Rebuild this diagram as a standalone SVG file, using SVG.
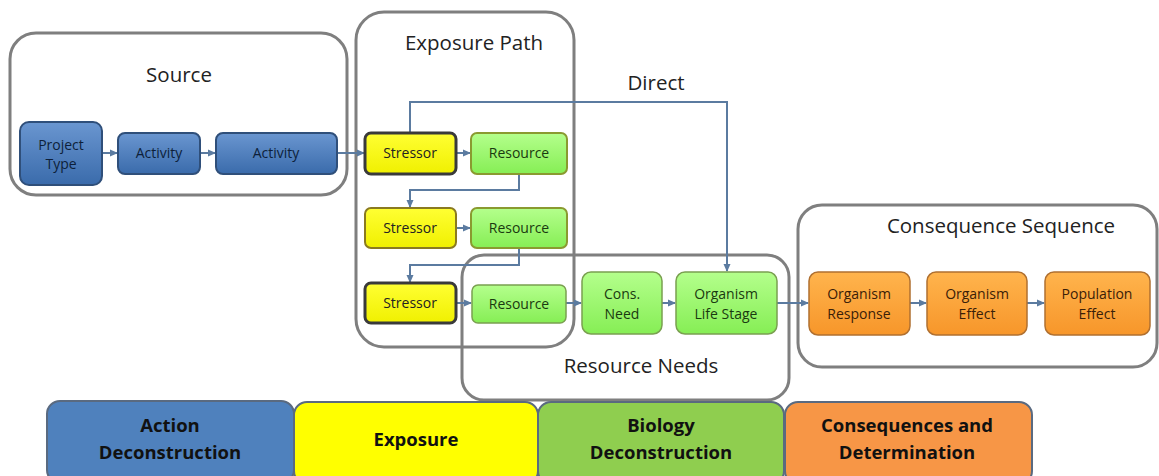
<svg xmlns="http://www.w3.org/2000/svg" width="1159" height="476" viewBox="0 0 1159 476">
<defs>
<linearGradient id="gb" x1="0" y1="0" x2="0" y2="1"><stop offset="0" stop-color="#6a96d0"/><stop offset="1" stop-color="#3a6bab"/></linearGradient>
<linearGradient id="gy" x1="0" y1="0" x2="0" y2="1"><stop offset="0" stop-color="#ffff33"/><stop offset="1" stop-color="#f0f000"/></linearGradient>
<linearGradient id="gg" x1="0" y1="0" x2="0" y2="1"><stop offset="0" stop-color="#b4ff8c"/><stop offset="1" stop-color="#86ee55"/></linearGradient>
<linearGradient id="go" x1="0" y1="0" x2="0" y2="1"><stop offset="0" stop-color="#ffb44d"/><stop offset="1" stop-color="#f7962a"/></linearGradient>
<marker id="ah" markerWidth="8" markerHeight="8" refX="7" refY="4" orient="auto" markerUnits="userSpaceOnUse"><path d="M0,0.5 L8,4 L0,7.5 Z" fill="#5b7ba0"/></marker>
</defs>
<style>
.cont{fill:none;stroke:#7f7f7f;stroke-width:3}
.ctitle{font-family:"Open Sans","Liberation Sans",sans-serif;font-size:20.5px;fill:#222;text-anchor:middle}
.nt{font-family:"Open Sans","Liberation Sans",sans-serif;font-size:14px;text-anchor:middle}
.blue{fill:url(#gb);stroke:#2f4f7a;stroke-width:2}
.yel{fill:url(#gy);stroke:#8a7a20;stroke-width:2}
.yel2{fill:url(#gy);stroke:#3a3a3a;stroke-width:3}
.grn{fill:url(#gg);stroke:#8a9a30;stroke-width:2}
.grn2{fill:url(#gg);stroke:#7aa050;stroke-width:1.5}
.org{fill:url(#go);stroke:#b07030;stroke-width:1.5}
.conn path{fill:none;stroke:#5b7ba0;stroke-width:2;marker-end:url(#ah)}
.bar{stroke:#5a6a80;stroke-width:2}
.bt{font-family:"Open Sans","Liberation Sans",sans-serif;font-size:18.5px;font-weight:bold;fill:#111;text-anchor:middle}
</style>
<rect width="1159" height="476" fill="#ffffff"/>

<g id="source-container">
<rect class="cont" x="10" y="33" width="337" height="162" rx="26"/>
<text class="ctitle" x="179" y="82">Source</text>
</g>
<g id="exposure-container">
<rect class="cont" x="356" y="12" width="218" height="335" rx="28"/>
<text class="ctitle" x="474" y="50">Exposure Path</text>
</g>
<g id="resource-needs-container">
<rect class="cont" x="462" y="255" width="327" height="145" rx="22"/>
<text class="ctitle" x="641" y="373">Resource Needs</text>
</g>
<g id="consequence-container">
<rect class="cont" x="798" y="205" width="359" height="162" rx="24"/>
<text class="ctitle" x="1001" y="233">Consequence Sequence</text>
</g>

<g class="conn" id="connectors">
<path d="M102,153 L117,153"/>
<path d="M200,153 L215,153"/>
<path d="M337,153 L364,153"/>
<path d="M456,153 L470,153"/>
<path d="M519,174 L519,190 L410,190 L410,207"/>
<path d="M456,228 L470,228"/>
<path d="M519,248 L519,265 L410,265 L410,282"/>
<path d="M456,303 L471,303"/>
<path d="M566,303 L581,303"/>
<path d="M662,303 L675,303"/>
<path d="M410,133 L410,102 L727,102 L727,271"/>
<path d="M777,303 L808,303"/>
<path d="M910,303 L926,303"/>
<path d="M1027,303 L1044,303"/>
</g>
<text class="ctitle" x="656" y="90">Direct</text>

<g id="project-type"><rect class="blue" x="20" y="122" width="82" height="63" rx="9"/><text class="nt" x="61" y="150" fill="#0d1f3a">Project</text><text class="nt" x="61" y="169" fill="#0d1f3a">Type</text></g>
<g id="activity-1"><rect class="blue" x="118" y="133" width="82" height="41" rx="7"/><text class="nt" x="159" y="158" fill="#0d1f3a">Activity</text></g>
<g id="activity-2"><rect class="blue" x="216" y="133" width="121" height="41" rx="7"/><text class="nt" x="276" y="158" fill="#0d1f3a">Activity</text></g>

<g id="stressor-1"><rect class="yel2" x="365" y="133" width="91" height="41" rx="6"/><text class="nt" x="410" y="158" fill="#222">Stressor</text></g>
<g id="resource-1"><rect class="grn" x="471" y="133" width="96" height="41" rx="6"/><text class="nt" x="519" y="158" fill="#1a3a10">Resource</text></g>
<g id="stressor-2"><rect class="yel" x="365" y="208" width="91" height="40" rx="6"/><text class="nt" x="410" y="233" fill="#222">Stressor</text></g>
<g id="resource-2"><rect class="grn" x="471" y="208" width="96" height="40" rx="6"/><text class="nt" x="519" y="233" fill="#1a3a10">Resource</text></g>
<g id="stressor-3"><rect class="yel2" x="365" y="283" width="91" height="40" rx="6"/><text class="nt" x="410" y="308" fill="#222">Stressor</text></g>
<g id="resource-3"><rect class="grn2" x="472" y="285" width="94" height="38" rx="6"/><text class="nt" x="519" y="309" fill="#1a3a10">Resource</text></g>
<g id="cons-need"><rect class="grn2" x="582" y="272" width="80" height="62" rx="9"/><text class="nt" x="622" y="299" fill="#1a3a10">Cons.</text><text class="nt" x="622" y="319" fill="#1a3a10">Need</text></g>
<g id="organism-life-stage"><rect class="grn2" x="676" y="272" width="101" height="62" rx="9"/><text class="nt" x="726" y="299" fill="#1a3a10">Organism</text><text class="nt" x="726" y="319" fill="#1a3a10">Life Stage</text></g>

<g id="organism-response"><rect class="org" x="809" y="272" width="101" height="63" rx="9"/><text class="nt" x="859" y="299" fill="#3a2008">Organism</text><text class="nt" x="859" y="319" fill="#3a2008">Response</text></g>
<g id="organism-effect"><rect class="org" x="927" y="272" width="100" height="63" rx="9"/><text class="nt" x="977" y="299" fill="#3a2008">Organism</text><text class="nt" x="977" y="319" fill="#3a2008">Effect</text></g>
<g id="population-effect"><rect class="org" x="1045" y="272" width="105" height="63" rx="9"/><text class="nt" x="1097" y="299" fill="#3a2008">Population</text><text class="nt" x="1097" y="319" fill="#3a2008">Effect</text></g>

<g id="legend-action"><rect class="bar" x="47" y="401" width="247" height="82" rx="13" fill="#4f81bd"/><text class="bt" x="170" y="432">Action</text><text class="bt" x="170" y="459">Deconstruction</text></g>
<g id="legend-exposure"><rect class="bar" x="294" y="402" width="244" height="82" rx="13" fill="#ffff00"/><text class="bt" x="416" y="446">Exposure</text></g>
<g id="legend-biology"><rect class="bar" x="538" y="402" width="246" height="82" rx="13" fill="#8fce4f"/><text class="bt" x="661" y="432">Biology</text><text class="bt" x="661" y="459">Deconstruction</text></g>
<g id="legend-consequences"><rect class="bar" x="785" y="402" width="247" height="82" rx="13" fill="#f79646"/><text class="bt" x="907" y="432">Consequences and</text><text class="bt" x="907" y="459">Determination</text></g>
</svg>
